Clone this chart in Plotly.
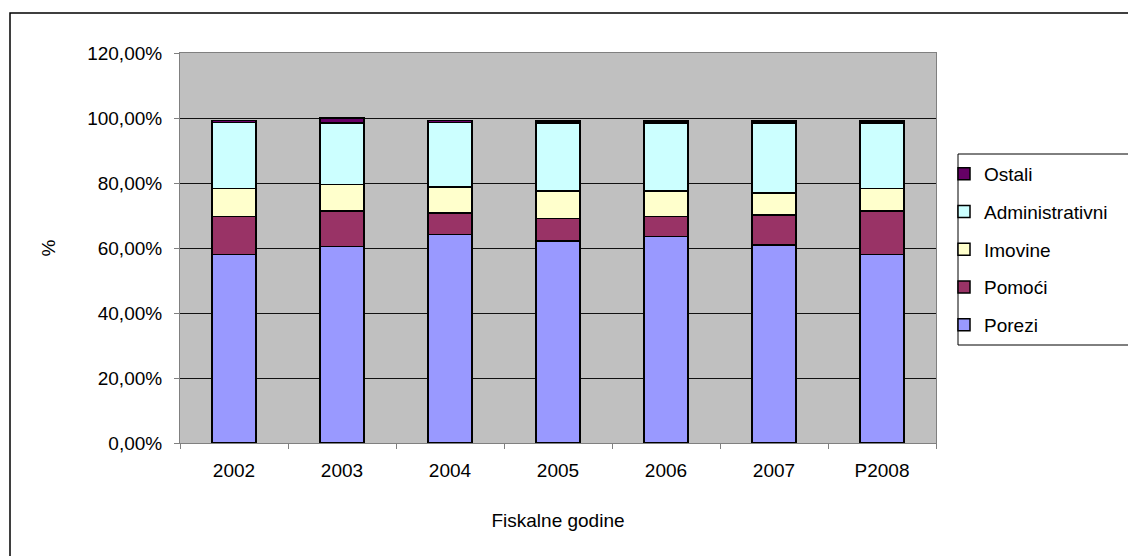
import plotly.graph_objects as go

years = ["2002", "2003", "2004", "2005", "2006", "2007", "P2008"]
porezi = [58.0, 60.5, 64.1, 62.2, 63.5, 61.0, 58.0]
pomoci = [11.7, 10.9, 6.7, 6.9, 6.2, 9.2, 13.4]
imovine = [8.6, 8.2, 8.0, 8.5, 7.9, 6.8, 6.9]
administrativni = [20.3, 18.9, 19.8, 20.9, 20.9, 21.5, 20.2]
ostali = [0.6, 1.5, 0.6, 0.6, 0.6, 0.6, 0.6]

series = [
    ("Porezi", porezi, "#9999FF"),
    ("Pomoći", pomoci, "#993366"),
    ("Imovine", imovine, "#FFFFCC"),
    ("Administrativni", administrativni, "#CCFFFF"),
    ("Ostali", ostali, "#660066"),
]

fig = go.Figure()
for i, (name, vals, col) in enumerate(series):
    fig.add_trace(go.Bar(
        x=years, y=[v / 100 for v in vals], name=name, legendgroup=name,
        legendrank=100 - i,
        marker=dict(color=col, line=dict(color="black", width=1.5)),
    ))

W, H = 1128, 556
L, R, T, B = 180, 936, 53, 443
pw, ph = R - L, B - T

def px(x):
    return (x - L) / pw

def py(y):
    return (B - y) / ph

FS = 19
fig.update_layout(
    width=W, height=H,
    margin=dict(l=L, r=W - R, t=T, b=H - B, pad=0),
    barmode="stack", bargap=0.59,
    paper_bgcolor="white", plot_bgcolor="#C0C0C0",
    separators=",.",
    font=dict(family="Liberation Sans, Arial", size=FS, color="black"),
    showlegend=True,
    legend=dict(
        x=px(944), y=py(155), xanchor="left", yanchor="top",
        traceorder="grouped", tracegroupgap=10,
        bgcolor="rgba(0,0,0,0)", borderwidth=0,
        font=dict(size=FS), itemwidth=30,
    ),
    xaxis=dict(
        title=dict(text="Fiskalne godine", standoff=33, font=dict(size=FS)),
        showline=True, linecolor="#808080", linewidth=1, mirror=True,
        ticks="outside", tickson="boundaries", ticklen=5, tickcolor="#808080",
        ticklabelstandoff=10,
        showgrid=False,
    ),
    yaxis=dict(
        title=dict(text="%", standoff=26, font=dict(size=FS)),
        range=[0, 1.2], dtick=0.2, tickformat=".2%",
        showline=True, linecolor="#808080", linewidth=1, mirror=True,
        ticks="outside", ticklen=5, tickcolor="#808080",
        ticklabelstandoff=8,
        showgrid=True, gridcolor="#111111", gridwidth=1,
        zeroline=False,
    ),
    shapes=[
        dict(type="rect", xref="paper", yref="paper",
             x0=px(10), x1=px(1140), y0=py(570), y1=py(13),
             line=dict(color="black", width=1.5), fillcolor="rgba(0,0,0,0)", layer="below"),
        dict(type="rect", xref="paper", yref="paper",
             x0=px(958), x1=px(1140), y0=py(345), y1=py(154),
             line=dict(color="black", width=1), fillcolor="white", layer="below"),
    ],
)

fig.write_html("out.html", config={"displayModeBar": False},
               post_script="document.body.style.margin='0';document.body.style.overflow='hidden';")
